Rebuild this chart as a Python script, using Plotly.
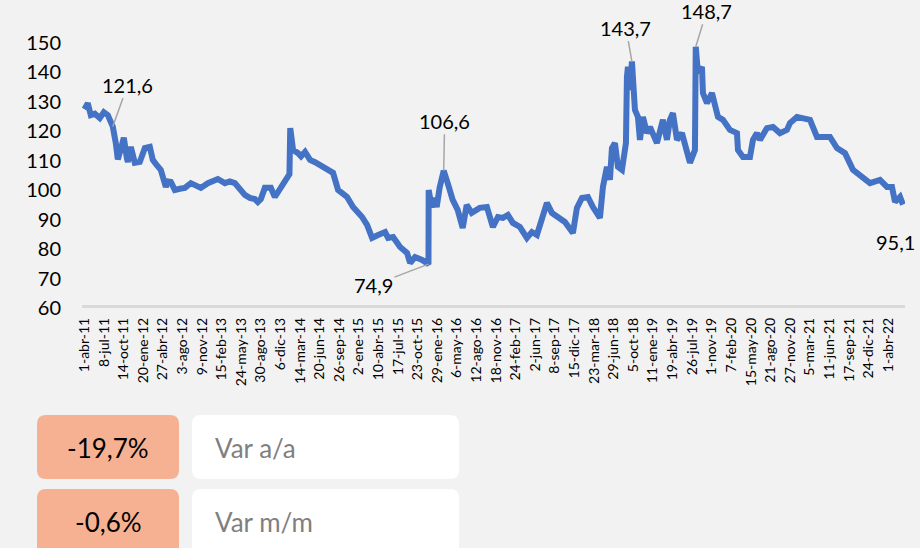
import plotly.graph_objects as go
from datetime import date

# Serie
fechas = [
    "2011-04-01", "2011-04-08", "2011-04-18", "2011-05-03", "2011-05-23", "2011-06-17", "2011-07-07",
    "2011-07-27", "2011-08-11", "2011-08-21", "2011-09-05", "2011-09-15", "2011-09-30", "2011-10-15",
    "2011-10-30", "2011-11-04", "2011-11-19", "2011-12-09",
    "2012-01-03", "2012-01-28", "2012-02-22", "2012-03-08", "2012-03-28", "2012-04-17", "2012-05-12",
    "2012-05-22", "2012-06-06", "2012-06-26", "2012-07-21", "2012-08-15", "2012-09-14", "2012-10-09",
    "2012-11-03", "2012-12-08",
    "2013-01-02", "2013-01-27", "2013-03-03", "2013-03-28", "2013-04-22", "2013-05-17", "2013-06-11",
    "2013-07-06", "2013-07-31", "2013-08-15", "2013-08-30", "2013-09-19", "2013-10-19", "2013-11-08",
    "2013-11-28", "2013-12-18",
    "2014-01-07", "2014-01-20", "2014-01-24", "2014-01-31", "2014-02-07", "2014-03-04", "2014-03-19",
    "2014-04-08", "2014-05-03", "2014-05-28", "2014-06-22", "2014-07-17", "2014-08-11", "2014-08-26",
    "2014-09-20", "2014-10-10", "2014-11-04", "2014-12-04", "2014-12-29",
    "2015-01-18", "2015-02-12", "2015-03-09", "2015-04-08", "2015-05-13", "2015-05-28", "2015-06-22",
    "2015-07-27", "2015-08-31", "2015-09-15", "2015-10-10", "2015-11-14", "2015-12-16", "2015-12-17",
    "2015-12-25",
    "2016-01-01", "2016-01-16", "2016-01-26", "2016-02-10", "2016-03-01", "2016-03-21", "2016-04-15",
    "2016-05-10", "2016-06-04", "2016-06-24", "2016-07-19", "2016-08-28", "2016-10-03", "2016-11-02",
    "2016-11-27", "2016-12-22",
    "2017-01-16", "2017-02-10", "2017-03-17", "2017-04-21", "2017-05-16", "2017-06-10", "2017-07-05",
    "2017-07-30", "2017-08-24", "2017-09-23", "2017-10-28", "2017-12-07", "2017-12-27",
    "2018-01-21", "2018-02-20", "2018-03-17", "2018-04-21", "2018-05-06", "2018-05-26", "2018-06-10",
    "2018-06-20", "2018-07-05", "2018-07-20", "2018-08-09", "2018-08-19", "2018-08-29", "2018-09-03",
    "2018-09-08", "2018-09-18", "2018-09-28", "2018-10-13", "2018-10-28", "2018-11-07", "2018-11-22",
    "2018-12-12", "2018-12-27",
    "2019-01-31", "2019-02-15", "2019-03-02", "2019-03-22", "2019-04-06", "2019-04-21", "2019-05-11",
    "2019-06-05", "2019-06-30", "2019-07-15", "2019-08-09", "2019-08-13", "2019-08-24", "2019-09-13",
    "2019-09-18", "2019-10-08", "2019-11-02", "2019-11-17", "2019-12-02", "2019-12-27",
    "2020-01-31", "2020-03-06", "2020-03-11", "2020-04-05", "2020-05-10", "2020-05-25", "2020-06-14",
    "2020-06-29", "2020-08-03", "2020-09-02", "2020-10-07", "2020-11-11", "2020-11-26", "2020-12-31",
    "2021-01-30", "2021-03-06", "2021-04-10", "2021-05-10", "2021-06-14", "2021-07-19", "2021-08-28",
    "2021-10-07", "2021-11-11", "2021-12-31",
    "2022-02-19", "2022-03-26", "2022-04-20", "2022-05-05", "2022-05-30", "2022-06-14",
]
valores = [
    127.5, 128.5, 129.5, 125.5, 126.0, 124.5, 126.5, 125.5, 122.5, 121.6, 116.0, 110.5, 114.0, 117.8,
    111.0, 109.6, 114.7, 109.3,
    109.6, 114.3, 114.7, 110.3, 108.5, 106.9, 101.1, 103.0, 102.8, 100.1, 100.5, 100.8, 102.4, 101.8,
    100.8, 102.4,
    103.0, 103.8, 102.4, 103.0, 102.4, 100.5, 98.4, 97.4, 97.0, 96.0, 97.0, 100.8, 100.8, 97.7,
    100.0, 102.4,
    104.5, 105.5, 121.1, 118.0, 113.7, 112.6, 111.5, 113.0, 110.3, 109.5, 108.6, 107.5, 106.9, 105.9,
    100.1, 99.0, 97.7, 94.3, 92.5,
    90.9, 88.2, 83.8, 84.8, 85.8, 83.8, 84.1, 80.7, 78.7, 75.3, 77.3, 76.3, 74.9, 100.1, 96.0,
    94.3, 97.4, 94.3, 101.0, 106.6, 102.4, 96.7, 93.3, 87.2, 95.0, 92.3, 94.0, 94.3, 87.5, 90.9, 90.6,
    91.6, 88.9, 87.5, 83.8, 85.8, 84.8, 90.9, 95.7, 92.3, 90.9, 89.2, 85.5, 94.0,
    97.4, 97.7, 94.3, 90.6, 101.1, 107.9, 103.5, 114.3, 116.0, 107.9, 106.9, 113.7, 116.0, 138.5,
    141.9, 134.0, 143.7, 127.3, 124.9, 117.1, 124.9, 119.4, 121.5,
    116.0, 119.4, 123.9, 117.1, 123.9, 126.2, 117.1, 119.4, 112.6, 109.3, 113.7, 148.7, 139.8, 141.9,
    133.0, 129.6, 133.0, 128.3, 124.9, 123.9,
    120.5, 119.4, 113.7, 111.3, 111.3, 117.1, 119.4, 117.1, 121.1, 121.5, 119.4, 120.5, 122.8, 124.9,
    124.5, 123.9, 118.1, 118.1, 118.1, 114.3, 112.6, 106.9, 105.2, 102.4,
    103.5, 101.1, 101.1, 96.0, 97.7, 95.1,
]
assert len(fechas) == len(valores)

# Etiquetas del eje X (cada 14 semanas)
etiquetas_x = [
    "1-abr-11", "8-jul-11", "14-oct-11", "20-ene-12", "27-abr-12", "3-ago-12", "9-nov-12",
    "15-feb-13", "24-may-13", "30-ago-13", "6-dic-13", "14-mar-14", "20-jun-14", "26-sep-14",
    "2-ene-15", "10-abr-15", "17-jul-15", "23-oct-15", "29-ene-16", "6-may-16", "12-ago-16",
    "18-nov-16", "24-feb-17", "2-jun-17", "8-sep-17", "15-dic-17", "23-mar-18", "29-jun-18",
    "5-oct-18", "11-ene-19", "19-abr-19", "26-jul-19", "1-nov-19", "7-feb-20", "15-may-20",
    "21-ago-20", "27-nov-20", "5-mar-21", "11-jun-21", "17-sep-21", "24-dic-21", "1-abr-22",
]
etiquetas_y = [60, 70, 80, 90, 100, 110, 120, 130, 140, 150]

# Puntos destacados: (fecha, valor, texto)
destacados = [
    ("2011-08-21", 121.6, "121,6"),
    ("2015-12-16", 74.9, "74,9"),
    ("2016-03-01", 106.6, "106,6"),
    ("2018-09-28", 143.7, "143,7"),
    ("2019-08-13", 148.7, "148,7"),
    ("2022-06-14", 95.1, "95,1"),
]

# Indicadores
var_valores = ["-19,7%", "-0,6%"]
var_textos = ["Var a/a", "Var m/m"]

MESES = {"ene": 1, "feb": 2, "mar": 3, "abr": 4, "may": 5, "jun": 6,
         "jul": 7, "ago": 8, "sep": 9, "oct": 10, "nov": 11, "dic": 12}


def parse_fecha(s):
    d, m, a = s.split("-")
    return date(2000 + int(a), MESES[m], int(d))


tick_vals = [parse_fecha(s).isoformat() for s in etiquetas_x]

W, H = 920, 548
ML, MR, MT, MB = 82, 15, 43, 240
PW, PH = W - ML - MR, H - MT - MB


def px(X):
    return (X - ML) / PW


def py(Y):
    return (H - MB - Y) / PH


def rrect(x0, y0, x1, y1, r):
    # rectángulo redondeado en coordenadas paper a partir de pixeles
    pts = [
        f"M {px(x0 + r)},{py(y0)}",
        f"L {px(x1 - r)},{py(y0)}",
        f"Q {px(x1)},{py(y0)} {px(x1)},{py(y0 + r)}",
        f"L {px(x1)},{py(y1 - r)}",
        f"Q {px(x1)},{py(y1)} {px(x1 - r)},{py(y1)}",
        f"L {px(x0 + r)},{py(y1)}",
        f"Q {px(x0)},{py(y1)} {px(x0)},{py(y1 - r)}",
        f"L {px(x0)},{py(y0 + r)}",
        f"Q {px(x0)},{py(y0)} {px(x0 + r)},{py(y0)}",
        "Z",
    ]
    return " ".join(pts)


FONT = "Lato, 'Open Sans', sans-serif"
AZUL = "#4472C4"

fig = go.Figure()

fig.add_trace(go.Scatter(
    x=fechas, y=valores,
    mode="lines",
    line=dict(color=AZUL, width=6),
    hoverinfo="x+y",
    showlegend=False,
))

# eje inferior gris grueso
fig.add_shape(type="line", xref="paper", yref="y", x0=0, x1=1, y0=60, y1=60,
              line=dict(color="#D9D9D9", width=6), layer="below")

# etiquetas de datos con líneas guía
offsets = {
    "121,6": (15, -42),
    "74,9": (-55, 21),
    "106,6": (1, -50),
    "143,7": (-6, -34),
    "148,7": (11, -36),
}
for f, v, t in destacados:
    if t in offsets:
        ax, ay = offsets[t]
        fig.add_annotation(
            x=f, y=v, text=t, showarrow=True, arrowhead=0, arrowwidth=1.5,
            arrowcolor="#A6A6A6", ax=ax, ay=ay, standoff=0,
            font=dict(family=FONT, size=20, color="#000000"),
        )
    else:
        fig.add_annotation(
            x=f, y=v, text=t, showarrow=False, xshift=-8, yshift=-37,
            font=dict(family=FONT, size=20, color="#000000"),
        )

# cajas de variación
filas_y = [(415, 479), (489, 560)]
for (y0, y1), val, txt in zip(filas_y, var_valores, var_textos):
    fig.add_shape(type="path", xref="paper", yref="paper", path=rrect(37, y0, 179, y1, 9),
                  fillcolor="#F6B192", line=dict(width=0), layer="above")
    fig.add_shape(type="path", xref="paper", yref="paper", path=rrect(192, y0, 459, y1, 9),
                  fillcolor="#FFFFFF", line=dict(width=0), layer="above")
    yc = (y0 + 32.5)
    fig.add_annotation(xref="paper", yref="paper", x=px(108), y=py(yc), text=val,
                       showarrow=False, xanchor="center", yanchor="middle",
                       font=dict(family=FONT, size=26, color="#000000"))
    fig.add_annotation(xref="paper", yref="paper", x=px(213), y=py(yc), text=txt,
                       showarrow=False, xanchor="left", yanchor="middle",
                       font=dict(family=FONT, size=26, color="#7F7F7F"))

fig.update_layout(
    width=W, height=H,
    margin=dict(l=ML, r=MR, t=MT, b=MB, pad=0),
    paper_bgcolor="#F2F2F2",
    plot_bgcolor="#F2F2F2",
    font=dict(family=FONT, color="#000000"),
    xaxis=dict(
        type="date",
        range=["2011-03-20", "2022-06-24"],
        tickmode="array", tickvals=tick_vals, ticktext=etiquetas_x,
        tickangle=-90, tickfont=dict(family=FONT, size=14, color="#000000"),
        showgrid=False, zeroline=False, showline=False, ticks="",
        ticklabelstandoff=6,
    ),
    yaxis=dict(
        range=[60, 150],
        tickmode="array", tickvals=etiquetas_y, ticktext=[str(v) for v in etiquetas_y],
        tickfont=dict(family=FONT, size=20, color="#000000"),
        showgrid=False, zeroline=False, showline=False, ticks="",
        ticklabelstandoff=20,
    ),
)

# sin margen del body para que la figura ocupe la ventana completa
fig.write_html(
    "out.html",
    config={"displayModeBar": False},
    post_script="document.body.style.margin='0';document.body.style.background='#F2F2F2';",
)
